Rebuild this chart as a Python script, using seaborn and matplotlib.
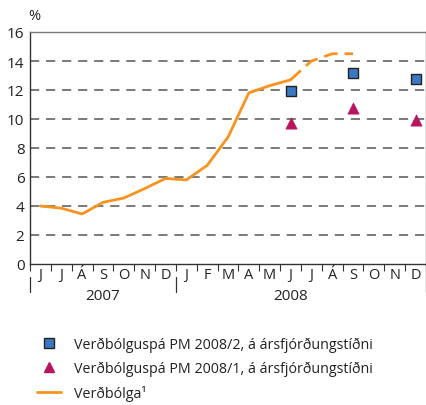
import numpy as np
import pandas as pd
import matplotlib
matplotlib.use("Agg")
import matplotlib.pyplot as plt
import matplotlib.transforms as mtransforms
from matplotlib.lines import Line2D
import seaborn as sns

# --- data ---
months = ["J", "J", "Á", "S", "O", "N", "D",
          "J", "F", "M", "A", "M", "J", "J", "Á", "S", "O", "N", "D"]
years = ["2007", "2008"]
inflation = [4.0, 3.85, 3.45, 4.25, 4.55, 5.2, 5.9,
             5.8, 6.8, 8.75, 11.8, 12.3, 12.7]
inflation_fc = [12.7, 14.0, 14.5, 14.5]          # Jun-Sep 2008, dashed
pm2_months = [12, 15, 18]                          # J, S, D 2008
pm2_values = [11.9, 13.2, 12.75]
pm1_months = [12, 15, 18]
pm1_values = [9.7, 10.75, 9.95]

label_pm2 = "Verðbólguspá PM 2008/2, á ársfjórðungstíðni"
label_pm1 = "Verðbólguspá PM 2008/1, á ársfjórðungstíðni"
label_inf = "Verðbólga¹"

orange = "#F7931E"
blue = "#3B78C3"
magenta = "#B8145F"

sns.set_theme(style="white")
plt.rcParams["font.family"] = ["Open Sans", "DejaVu Sans"]

df_inf = pd.DataFrame({"x": np.arange(len(inflation)) + 0.5, "v": inflation})
df_fc = pd.DataFrame({"x": np.arange(len(inflation_fc)) + 12.5, "v": inflation_fc})
df_pm2 = pd.DataFrame({"x": np.array(pm2_months) + 0.5, "v": pm2_values})
df_pm1 = pd.DataFrame({"x": np.array(pm1_months) + 0.5, "v": pm1_values})

fig = plt.figure(figsize=(4.27, 4.06), dpi=100)
ax = fig.add_axes([30 / 427, 141 / 406, 396 / 427, 232 / 406])

# gridlines
for yv in range(2, 16, 2):
    ax.axhline(yv, color="#555555", lw=1.1, ls=(0, (6, 4.5)), zorder=1)

sns.lineplot(data=df_inf, x="x", y="v", ax=ax, color=orange, lw=2.0, zorder=3)
sns.lineplot(data=df_fc, x="x", y="v", ax=ax, color=orange, lw=2.0,
             zorder=3).lines[-1].set_dashes((5, 2.5))
sns.scatterplot(data=df_pm2, x="x", y="v", ax=ax, marker="s", s=42,
                color=blue, edgecolor="#222222", linewidth=1.0, zorder=4)
sns.scatterplot(data=df_pm1, x="x", y="v", ax=ax, marker="^", s=65,
                color=magenta, edgecolor=magenta, linewidth=0.5, zorder=4)

ax.set_xlim(0, len(months))
ax.set_ylim(0, 16)
ax.set_xlabel("")
ax.set_ylabel("")
ax.set_yticks(range(0, 17, 2))
ax.tick_params(axis="y", length=0, labelsize=11, colors="#222222", pad=4)

ax.set_xticks(np.arange(len(months)) + 0.5)
ax.set_xticklabels(months)
ax.set_xticks(np.arange(len(months) + 1), minor=True)
ax.tick_params(axis="x", which="major", length=0, labelsize=10.5,
               colors="#222222", pad=2)
ax.tick_params(axis="x", which="minor", length=5, width=0.8,
               color="#333333", direction="out", bottom=True)

for side in ["left", "bottom"]:
    ax.spines[side].set_color("#333333")
    ax.spines[side].set_linewidth(1.0)
for side in ["top", "right"]:
    ax.spines[side].set_color("#777777")
    ax.spines[side].set_linewidth(1.0)

ax.text(-0.005, 1.04, "%", transform=ax.transAxes, fontsize=10.5,
        ha="left", va="bottom", color="#222222")

# year labels and separators
trans = mtransforms.blended_transform_factory(ax.transData, ax.transAxes)
ax.text(3.5, -0.105, years[0], transform=trans, ha="center", va="top",
        fontsize=11, color="#222222")
ax.text(12.5, -0.105, years[1], transform=trans, ha="center", va="top",
        fontsize=11, color="#222222")
for xs, y0 in [(0, -0.055), (7, -0.055), (19, 0.0)]:
    ax.plot([xs, xs], [y0, -0.12], transform=trans, color="#333333",
            lw=0.9, clip_on=False)

handles = [
    Line2D([], [], marker="s", ls="none", markersize=6.5,
           markerfacecolor=blue, markeredgecolor="#222222", markeredgewidth=1.0),
    Line2D([], [], marker="^", ls="none", markersize=7.5,
           markerfacecolor=magenta, markeredgecolor=magenta),
    Line2D([], [], color=orange, lw=2.0),
]
fig.legend(handles, [label_pm2, label_pm1, label_inf], loc="upper left",
           bbox_to_anchor=(31 / 427, 1 - 332 / 406), frameon=False,
           fontsize=10.3, handlelength=1.7, handletextpad=0.9,
           labelspacing=0.62, borderaxespad=0, labelcolor="#222222")

fig.savefig("out.png", dpi=100)
